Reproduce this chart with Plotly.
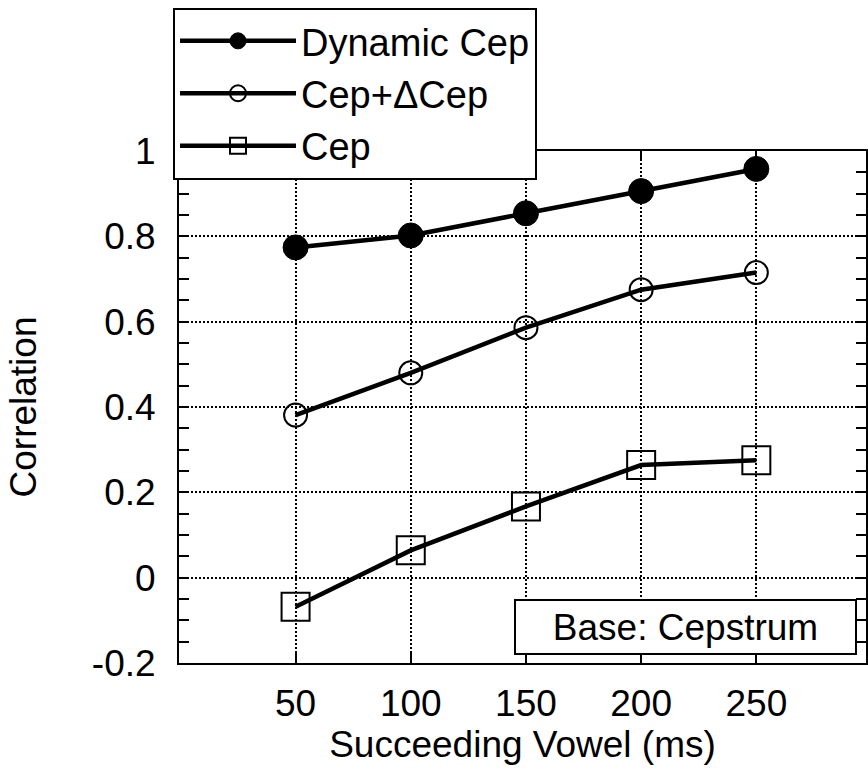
import plotly.graph_objects as go

x_ms = [50, 100, 150, 200, 250]
dynamic_cep = [0.774, 0.802, 0.854, 0.906, 0.958]
cep_dcep = [0.381, 0.480, 0.586, 0.675, 0.715]
cep = [-0.068, 0.064, 0.167, 0.264, 0.275]

series_names = ["Dynamic Cep", "Cep+\u0394Cep", "Cep"]
y_tickvals = [-0.2, 0, 0.2, 0.4, 0.6, 0.8, 1.0]
y_ticktext = ["-0.2", "0", "0.2", "0.4", "0.6", "0.8", "1"]
x_tickvals = [50, 100, 150, 200, 250]
x_ticktext = ["50", "100", "150", "200", "250"]

FONT = "Liberation Sans, Arial, Helvetica, sans-serif"

fig = go.Figure()
fig.add_trace(go.Scatter(
    x=x_ms, y=dynamic_cep, name=series_names[0], mode="lines+markers",
    line=dict(color="black", width=4.5),
    marker=dict(symbol="circle", size=25, color="black",
                line=dict(color="black", width=1))))
fig.add_trace(go.Scatter(
    x=x_ms, y=cep_dcep, name=series_names[1], mode="lines+markers",
    line=dict(color="black", width=4.5),
    marker=dict(symbol="circle-open", size=23, color="black",
                line=dict(color="black", width=2))))
fig.add_trace(go.Scatter(
    x=x_ms, y=cep, name=series_names[2], mode="lines+markers",
    line=dict(color="black", width=4.5),
    marker=dict(symbol="square-open", size=28, color="black",
                line=dict(color="black", width=2))))

axis_common = dict(
    showline=True, linecolor="black", linewidth=2, mirror="ticks",
    ticks="inside", ticklen=10, tickwidth=2, tickcolor="black",
    showgrid=True, gridcolor="black", gridwidth=2, griddash="2px,2px",
    zeroline=False,
    tickfont=dict(family=FONT, size=37, color="black"),
)

fig.update_xaxes(
    range=[-0.6, 297.6], tickvals=x_tickvals, ticktext=x_ticktext,
    title=dict(text="Succeeding Vowel (ms)", standoff=6,
               font=dict(family=FONT, size=37, color="black")),
    ticklabelstandoff=7,
    **axis_common)
fig.update_yaxes(
    range=[-0.2, 1.0], tickvals=y_tickvals, ticktext=y_ticktext,
    minor=dict(dtick=0.05, ticks="inside", ticklen=10, tickwidth=2,
               tickcolor="black", showgrid=False),
    title=dict(text="Correlation", standoff=44,
               font=dict(family=FONT, size=37, color="black")),
    ticklabelstandoff=14,
    **axis_common)

fig.add_annotation(
    text="Base: Cepstrum", xref="paper", yref="paper",
    x=0.7366, y=0.0703, xanchor="center", yanchor="middle",
    showarrow=False, width=335, height=48, borderpad=2,
    bordercolor="black", borderwidth=2, bgcolor="white",
    font=dict(family=FONT, size=37, color="black"))

fig.update_layout(
    width=868, height=772,
    margin=dict(l=179, r=0, t=151, b=109),
    paper_bgcolor="white", plot_bgcolor="white",
    font=dict(family=FONT, size=37, color="black"),
    showlegend=True,
    legend=dict(
        x=-0.0087, y=1.28, xanchor="left", yanchor="top",
        bgcolor="white", bordercolor="black", borderwidth=2,
        font=dict(family=FONT, size=38, color="black"),
        itemwidth=116, itemsizing="trace", tracegroupgap=0,
        entrywidth=300, entrywidthmode="pixels",
    ),
)

fig.write_html("out.html")
